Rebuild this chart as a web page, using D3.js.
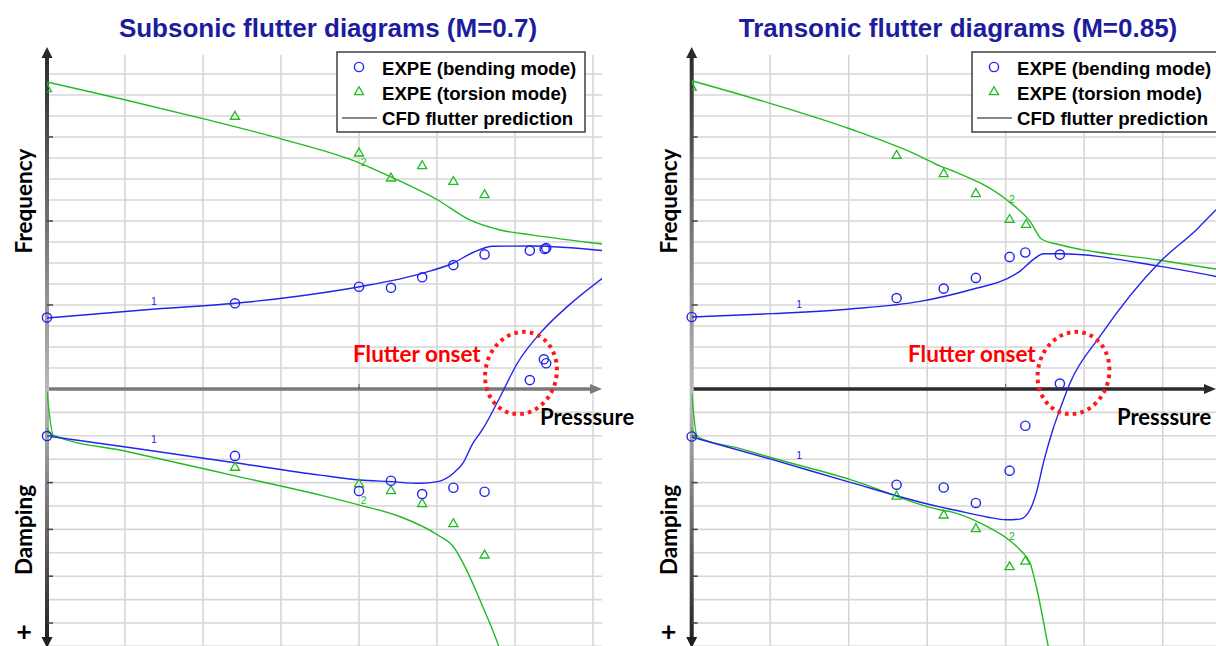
<!DOCTYPE html>
<html>
<head>
<meta charset="utf-8">
<script src="https://cdn.jsdelivr.net/npm/d3@7"></script>
<style>
  body { margin: 0; background: #ffffff; }
  svg { display: block; }
</style>
</head>
<body>
<svg id="chart" width="1216" height="646"></svg>
<script>
// ---- Subsonic (M=0.7): [pressure, frequency] / [pressure, damping] ----
const subTorsionFreqCurve = [[0,14.62],[1.01,13.76],[2.01,12.86],[3.01,11.9],[4.01,10.76],[4.41,10.1],[5.01,9.0],[5.42,8.05],[5.81,7.57],[6.23,7.33],[7.12,6.9]];
const subBendingFreqCurve = [[0,3.38],[1.35,3.8],[2.41,4.08],[3.24,4.43],[4.01,4.87],[4.82,5.52],[5.21,6.0],[5.46,6.5],[5.72,6.8],[6.23,6.81],[7.12,6.59]];
const subBendingDampCurve = [[0,2.01],[1.01,2.48],[2.41,3.15],[3.5,3.68],[4.01,3.89],[4.41,3.96],[4.78,4.03],[5.01,3.96],[5.21,3.6],[5.33,3.18],[5.46,2.32],[5.58,1.75],[5.81,0.33],[6.03,-1.1],[6.36,-2.52],[6.67,-3.52],[7.12,-4.73]];
const subTorsionDampCurve = [[0,0.1],[0.08,1.97],[1.01,2.66],[2.41,3.71],[3.5,4.53],[4.01,4.96],[4.53,5.46],[5.01,6.24],[5.21,6.74],[5.38,7.74],[5.55,9.02],[5.79,10.98],[5.87,11.8]];
const subTorsionFreqPts = [[0,14.29],[2.41,12.97],[4.0,11.22],[4.41,10.03],[4.81,10.62],[5.21,9.87],[5.61,9.24]];
const subTorsionDampPts = [[0,1.9],[2.41,3.36],[4.0,4.07],[4.41,4.36],[4.81,4.91],[5.21,5.77],[5.61,7.11]];
const subBendingFreqPts = [[0,3.4],[2.41,4.08],[4.0,4.87],[4.41,4.82],[4.81,5.32],[5.21,5.9],[5.61,6.41],[6.19,6.59],[6.38,6.67],[6.4,6.71]];
const subBendingDampPts = [[0,2.01],[2.41,2.86],[4.0,4.36],[4.41,3.92],[4.81,4.49],[5.21,4.22],[5.61,4.39],[6.19,-0.38],[6.37,-1.27],[6.4,-1.1]];

// ---- Transonic (M=0.85) ----
const traTorsionFreqCurve = [[0,14.68],[1.02,13.58],[2.02,12.38],[2.91,11.08],[3.16,10.62],[3.33,10.38],[4.01,9.01],[4.31,7.98],[4.46,7.13],[4.69,6.87],[5.97,6.13],[6.68,5.71]];
const traBendingFreqCurve = [[0,3.43],[1.02,3.59],[2.02,3.81],[2.91,4.17],[3.59,4.76],[4.01,5.24],[4.18,5.6],[4.35,6.16],[4.48,6.44],[4.69,6.44],[5.97,5.84],[6.68,5.36]];
const traBendingDampCurve = [[0,2.05],[1.02,3.01],[2.02,3.99],[3.16,5.04],[3.33,5.16],[3.76,5.47],[4.01,5.59],[4.18,5.56],[4.31,5.16],[4.39,4.44],[4.48,3.16],[4.6,1.74],[4.69,0.88],[4.82,-0.26],[5.2,-2.25],[5.97,-5.45],[6.43,-6.81],[6.68,-7.66]];
const traTorsionDampCurve = [[0,0.17],[0.07,2.03],[0.62,2.55],[1.02,2.94],[2.02,3.87],[3.16,5.16],[3.33,5.27],[3.76,5.87],[4.01,6.37],[4.18,6.87],[4.31,7.44],[4.39,8.44],[4.54,10.97],[4.59,11.8]];
const traTorsionFreqPts = [[0,14.36],[2.61,11.11],[3.21,10.24],[3.62,9.29],[4.05,8.06],[4.26,7.82]];
const traTorsionDampPts = [[0,1.9],[2.61,4.59],[3.21,5.4],[3.62,5.98],[4.05,7.61],[4.25,7.37]];
const traBendingFreqPts = [[0,3.43],[2.61,4.33],[3.21,4.78],[3.62,5.29],[4.05,6.29],[4.25,6.5],[4.69,6.4]];
const traBendingDampPts = [[0,2.03],[2.61,4.09],[3.21,4.21],[3.62,4.87],[4.05,3.49],[4.25,1.57],[4.69,-0.23]];

// ---- Text ----
const panelTitles = ["Subsonic flutter diagrams (M=0.7)", "Transonic flutter diagrams (M=0.85)"];
const legendLabels = ["EXPE (bending mode)", "EXPE (torsion mode)", "CFD flutter prediction"];
const freqGridValues = d3.range(1, 16);
const dampGridValues = d3.range(1, 12);
const pressureGridValues = d3.range(1, 9);
const freqTickValues = [4, 8, 12];
const dampTickValues = [2, 4, 6, 8, 10];

const BLUE = "#2323ee";
const GREEN = "#22bb22";
const svg = d3.select("#chart");
const defs = svg.append("defs");

// gradients for the vertical axis halves
function vGrad(id, y1, y2, c1, c2) {
  const g = defs.append("linearGradient").attr("id", id)
    .attr("gradientUnits", "userSpaceOnUse")
    .attr("x1", 0).attr("x2", 0).attr("y1", y1).attr("y2", y2);
  g.append("stop").attr("offset", 0).attr("stop-color", c1);
  g.append("stop").attr("offset", 1).attr("stop-color", c2);
}
vGrad("gradUp", 50, 389, "#2a2a2a", "#b8b8b8");
vGrad("gradDown", 389, 646, "#c0c0c0", "#1e1e1e");

const panels = [
  {
    id: "sub", x0: 47, unit: 78, xEnd: 602, axisColor: "#7a7a7a",
    title: panelTitles[0], titleX: 328,
    torsionFreqCurve: subTorsionFreqCurve, bendingFreqCurve: subBendingFreqCurve,
    bendingDampCurve: subBendingDampCurve, torsionDampCurve: subTorsionDampCurve,
    torsionFreqPts: subTorsionFreqPts, torsionDampPts: subTorsionDampPts,
    bendingFreqPts: subBendingFreqPts, bendingDampPts: subBendingDampPts,
    legendX: 337, legendW: 248,
    onsetX: 353, ellipse: [521, 373],
    pressureX: 540,
    modeLabels: [
      { t: "1", p: 1.37, f: 4.0, c: BLUE, s: "f" },
      { t: "1", p: 1.37, d: 2.3, c: BLUE, s: "d" },
      { t: "2", p: 4.06, f: 10.6, c: GREEN, s: "f" },
      { t: "2", p: 4.06, d: 4.9, c: GREEN, s: "d" }
    ]
  },
  {
    id: "tra", x0: 691.7, unit: 78.5, xEnd: 1216, axisColor: "#2a2a2a",
    title: panelTitles[1], titleX: 958,
    torsionFreqCurve: traTorsionFreqCurve, bendingFreqCurve: traBendingFreqCurve,
    bendingDampCurve: traBendingDampCurve, torsionDampCurve: traTorsionDampCurve,
    torsionFreqPts: traTorsionFreqPts, torsionDampPts: traTorsionDampPts,
    bendingFreqPts: traBendingFreqPts, bendingDampPts: traBendingDampPts,
    legendX: 972, legendW: 262,
    onsetX: 908, ellipse: [1073.5, 373],
    pressureX: 1117,
    modeLabels: [
      { t: "1", p: 1.37, f: 3.85, c: BLUE, s: "f" },
      { t: "1", p: 1.37, d: 3.0, c: BLUE, s: "d" },
      { t: "2", p: 4.08, f: 8.85, c: GREEN, s: "f" },
      { t: "2", p: 4.08, d: 6.45, c: GREEN, s: "d" }
    ]
  }
];

const AXIS_Y = 389;
const TOP_Y = 55;
const yFreq = d3.scaleLinear().domain([0, 15]).range([AXIS_Y, 74]);
const yDamp = d3.scaleLinear().domain([0, 11]).range([AXIS_Y, AXIS_Y + 11 * 23.4]);

panels.forEach(P => {
  const x = d3.scaleLinear().domain([0, 1]).range([P.x0, P.x0 + P.unit]);
  const g = svg.append("g").attr("class", "panel-" + P.id);

  defs.append("clipPath").attr("id", "clip-" + P.id)
    .append("rect").attr("x", P.x0).attr("y", TOP_Y)
    .attr("width", P.xEnd - P.x0).attr("height", 646 - TOP_Y);

  // grid
  const grid = g.append("g").attr("stroke", "#d6d6d6").attr("stroke-width", 1.6);
  grid.selectAll(".gv").data(pressureGridValues.filter(v => x(v) < P.xEnd - 2))
    .join("line").attr("x1", d => x(d)).attr("x2", d => x(d))
    .attr("y1", TOP_Y).attr("y2", 646);
  grid.selectAll(".gf").data(freqGridValues)
    .join("line").attr("class", "gf").attr("x1", P.x0).attr("x2", P.xEnd)
    .attr("y1", d => yFreq(d)).attr("y2", d => yFreq(d));
  grid.selectAll(".gd").data(dampGridValues)
    .join("line").attr("class", "gd").attr("x1", P.x0).attr("x2", P.xEnd)
    .attr("y1", d => yDamp(d)).attr("y2", d => yDamp(d));

  // pressure axis
  g.append("line").attr("x1", P.x0).attr("x2", P.xEnd - 10)
    .attr("y1", AXIS_Y).attr("y2", AXIS_Y)
    .attr("stroke", P.axisColor).attr("stroke-width", 3.5);
  g.append("path")
    .attr("d", `M${P.xEnd},${AXIS_Y} L${P.xEnd - 12},${AXIS_Y - 5} L${P.xEnd - 12},${AXIS_Y + 5} Z`)
    .attr("fill", P.axisColor);
  g.append("line").attr("x1", x(4)).attr("x2", x(4))
    .attr("y1", AXIS_Y - 5).attr("y2", AXIS_Y).attr("stroke", "#555").attr("stroke-width", 1);

  // vertical axis (frequency up, damping down)
  g.append("rect").attr("x", P.x0 - 2).attr("y", 56).attr("width", 4).attr("height", AXIS_Y - 56)
    .attr("fill", "url(#gradUp)");
  g.append("rect").attr("x", P.x0 - 2).attr("y", AXIS_Y).attr("width", 4).attr("height", 250)
    .attr("fill", "url(#gradDown)");
  g.append("path").attr("d", `M${P.x0},47 L${P.x0 - 5.5},58 L${P.x0 + 5.5},58 Z`).attr("fill", "#2a2a2a");
  g.append("path").attr("d", `M${P.x0},648 L${P.x0 - 5.5},637 L${P.x0 + 5.5},637 Z`).attr("fill", "#1e1e1e");
  g.selectAll(".tf").data(freqTickValues).join("line")
    .attr("x1", P.x0).attr("x2", P.x0 + 6).attr("y1", d => yFreq(d)).attr("y2", d => yFreq(d))
    .attr("stroke", "#444").attr("stroke-width", 1.5);
  g.selectAll(".td").data(dampTickValues).join("line")
    .attr("x1", P.x0).attr("x2", P.x0 + 6).attr("y1", d => yDamp(d)).attr("y2", d => yDamp(d))
    .attr("stroke", "#444").attr("stroke-width", 1.5);

  // CFD curves
  const plot = g.append("g").attr("clip-path", `url(#clip-${P.id})`);
  const lineF = d3.line().x(d => x(d[0])).y(d => yFreq(d[1])).curve(d3.curveMonotoneX);
  const lineD = d3.line().x(d => x(d[0])).y(d => yDamp(d[1])).curve(d3.curveMonotoneX);
  const curves = [
    [P.torsionFreqCurve, lineF, GREEN], [P.bendingFreqCurve, lineF, BLUE],
    [P.torsionDampCurve, lineD, GREEN], [P.bendingDampCurve, lineD, BLUE]
  ];
  curves.forEach(([data, gen, col]) => {
    plot.append("path").attr("d", gen(data)).attr("fill", "none")
      .attr("stroke", col).attr("stroke-width", 1.4);
  });

  // mode numbers on curves
  plot.selectAll(".ml").data(P.modeLabels).join("text")
    .attr("x", d => x(d.p)).attr("y", d => d.s === "f" ? yFreq(d.f) : yDamp(d.d))
    .attr("fill", d => d.c).attr("font-family", "Liberation Sans, Arial, sans-serif")
    .attr("font-size", 10.5).attr("text-anchor", "middle").text(d => d.t);

  // experimental points
  const tri = d3.symbol(d3.symbolTriangle, 36);
  plot.selectAll(".tfp").data(P.torsionFreqPts).join("path")
    .attr("d", tri).attr("transform", d => `translate(${x(d[0])},${yFreq(d[1])})`)
    .attr("fill", "none").attr("stroke", GREEN).attr("stroke-width", 1.3);
  plot.selectAll(".tdp").data(P.torsionDampPts).join("path")
    .attr("d", tri).attr("transform", d => `translate(${x(d[0])},${yDamp(d[1])})`)
    .attr("fill", "none").attr("stroke", GREEN).attr("stroke-width", 1.3);
  g.selectAll(".bfp").data(P.bendingFreqPts).join("circle")
    .attr("cx", d => x(d[0])).attr("cy", d => yFreq(d[1])).attr("r", 4.6)
    .attr("fill", "none").attr("stroke", BLUE).attr("stroke-width", 1.4);
  g.selectAll(".bdp").data(P.bendingDampPts).join("circle")
    .attr("cx", d => x(d[0])).attr("cy", d => yDamp(d[1])).attr("r", 4.6)
    .attr("fill", "none").attr("stroke", BLUE).attr("stroke-width", 1.4);

  // flutter onset marker
  g.append("ellipse").attr("cx", P.ellipse[0]).attr("cy", P.ellipse[1])
    .attr("rx", 35.5).attr("ry", 41.5)
    .attr("transform", `rotate(15 ${P.ellipse[0]} ${P.ellipse[1]})`)
    .attr("fill", "none").attr("stroke", "#ff1a1a").attr("stroke-width", 4)
    .attr("stroke-dasharray", "3.6 4.2");
  g.append("text").attr("x", P.onsetX).attr("y", 362)
    .attr("font-family", "Lato, sans-serif").attr("font-weight", 700).attr("font-size", 22.5)
    .attr("fill", "#ff0000").text("Flutter onset");

  g.append("text").attr("x", P.pressureX).attr("y", 425)
    .attr("font-family", "Lato, sans-serif").attr("font-weight", 700).attr("font-size", 22)
    .attr("fill", "#000").text("Presssure");

  // axis titles
  const lx = P.x0 - 23;
  g.append("text").attr("transform", `translate(${lx + 8},201) rotate(-90)`)
    .attr("text-anchor", "middle").attr("font-family", "Lato, sans-serif")
    .attr("font-weight", 700).attr("font-size", 22.5).text("Frequency");
  g.append("text").attr("transform", `translate(${lx + 8},530) rotate(-90)`)
    .attr("text-anchor", "middle").attr("font-family", "Lato, sans-serif")
    .attr("font-weight", 700).attr("font-size", 22.5).text("Damping");
  g.append("text").attr("x", lx).attr("y", 641).attr("text-anchor", "middle")
    .attr("font-family", "Lato, sans-serif").attr("font-weight", 700).attr("font-size", 27).text("+");

  // legend
  const lg = g.append("g");
  lg.append("rect").attr("x", P.legendX).attr("y", 52).attr("width", P.legendW).attr("height", 80)
    .attr("fill", "#fff").attr("stroke", "#333").attr("stroke-width", 1.4);
  const ix = P.legendX + 22;
  lg.append("circle").attr("cx", ix).attr("cy", 67).attr("r", 4.6)
    .attr("fill", "none").attr("stroke", BLUE).attr("stroke-width", 1.4);
  lg.append("path").attr("d", tri).attr("transform", `translate(${ix},92)`)
    .attr("fill", "none").attr("stroke", GREEN).attr("stroke-width", 1.3);
  lg.append("line").attr("x1", P.legendX + 5).attr("x2", P.legendX + 40)
    .attr("y1", 118).attr("y2", 118).attr("stroke", "#111").attr("stroke-width", 1.2);
  lg.selectAll(".lt").data(legendLabels).join("text")
    .attr("x", P.legendX + 45).attr("y", (d, i) => 74.5 + i * 25)
    .attr("font-family", "Liberation Sans, Arial, sans-serif").attr("font-weight", 700)
    .attr("font-size", 18.6).attr("fill", "#000").text(d => d);

  // title
  svg.append("text").attr("x", P.titleX).attr("y", 37).attr("text-anchor", "middle")
    .attr("font-family", "Liberation Sans, Arial, sans-serif").attr("font-weight", 700)
    .attr("font-size", 26).attr("fill", "#1c1c9e").text(P.title);
});
</script>
</body>
</html>
